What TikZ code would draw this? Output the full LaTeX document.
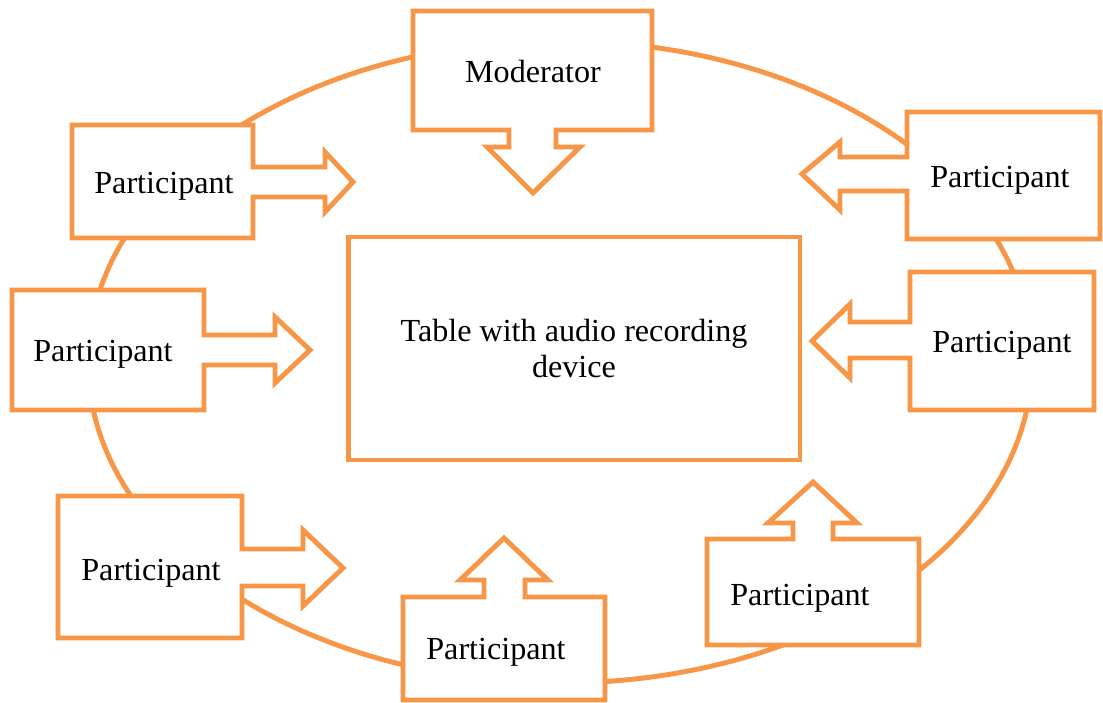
\documentclass[tikz,border=0pt]{standalone}
\usepackage{fontspec}
\setmainfont{Liberation Serif}
\definecolor{callorange}{HTML}{F79646}

\begin{document}
\begin{tikzpicture}[x=0.02cm, y=-0.02cm,
	callbox/.style={draw=callorange, line width=2.8pt, fill=white, line join=miter},
	calltext/.style={inner sep=0, font=\fontsize{18.3}{21}\selectfont}]
\useasboundingbox (0,0) rectangle (1103,703);

% round table line
\draw[callorange, line width=2.8pt] (560,362) ellipse [x radius=472, y radius=321];

% moderator, arrow down
\draw[callbox] (413,11) -- (652,11) -- (652,130) -- (556,130) -- (556,147) -- (580,147) -- (533,193) -- (487,147) -- (509,147) -- (509,130) -- (413,130) -- cycle;
\node[calltext, anchor=base] (moderator) at (533,82) {Moderator};

% participants, left side (arrows right)
\draw[callbox] (72,125) -- (253,125) -- (253,167) -- (325,167) -- (325,152) -- (353,182) -- (325,212) -- (325,197) -- (253,197) -- (253,238) -- (72,238) -- cycle;
\node[calltext, anchor=base west] (partA) at (94,193) {Participant};

\draw[callbox] (12,290) -- (204,290) -- (204,335) -- (275,335) -- (275,317) -- (310,350) -- (275,383) -- (275,365) -- (204,365) -- (204,410) -- (12,410) -- cycle;
\node[calltext, anchor=base west] (partB) at (33,361) {Participant};

\draw[callbox] (58,496) -- (242,496) -- (242,549) -- (303,549) -- (303,530) -- (343,568) -- (303,606) -- (303,586) -- (242,586) -- (242,638) -- (58,638) -- cycle;
\node[calltext, anchor=base west] (partC) at (81,580) {Participant};

% participants, bottom (arrows up)
\draw[callbox] (403,597) -- (484,597) -- (484,580) -- (460,580) -- (504,538) -- (548,580) -- (525,580) -- (525,597) -- (605,597) -- (605,700) -- (403,700) -- cycle;
\node[calltext, anchor=base west] (partD) at (426,659) {Participant};

\draw[callbox] (707,539) -- (793,539) -- (793,523) -- (768,523) -- (813,482) -- (857,523) -- (833,523) -- (833,539) -- (919,539) -- (919,645) -- (707,645) -- cycle;
\node[calltext, anchor=base west] (partE) at (730,605) {Participant};

% participants, right side (arrows left)
\draw[callbox] (910,272) -- (1094,272) -- (1094,410) -- (910,410) -- (910,358) -- (850,358) -- (850,378) -- (812,341) -- (850,304) -- (850,322) -- (910,322) -- cycle;
\node[calltext, anchor=base west] (partF) at (932,352) {Participant};

\draw[callbox] (907,112) -- (1100,112) -- (1100,239) -- (907,239) -- (907,191) -- (840,191) -- (840,210) -- (802,174) -- (840,142) -- (840,157) -- (907,157) -- cycle;
\node[calltext, anchor=base west] (partG) at (930,187) {Participant};

% the table
\node[callbox, calltext, minimum width=9.04cm, minimum height=4.46cm, align=center] (table) at (574,348.5) {Table with audio recording\\device};

\end{tikzpicture}
\end{document}
